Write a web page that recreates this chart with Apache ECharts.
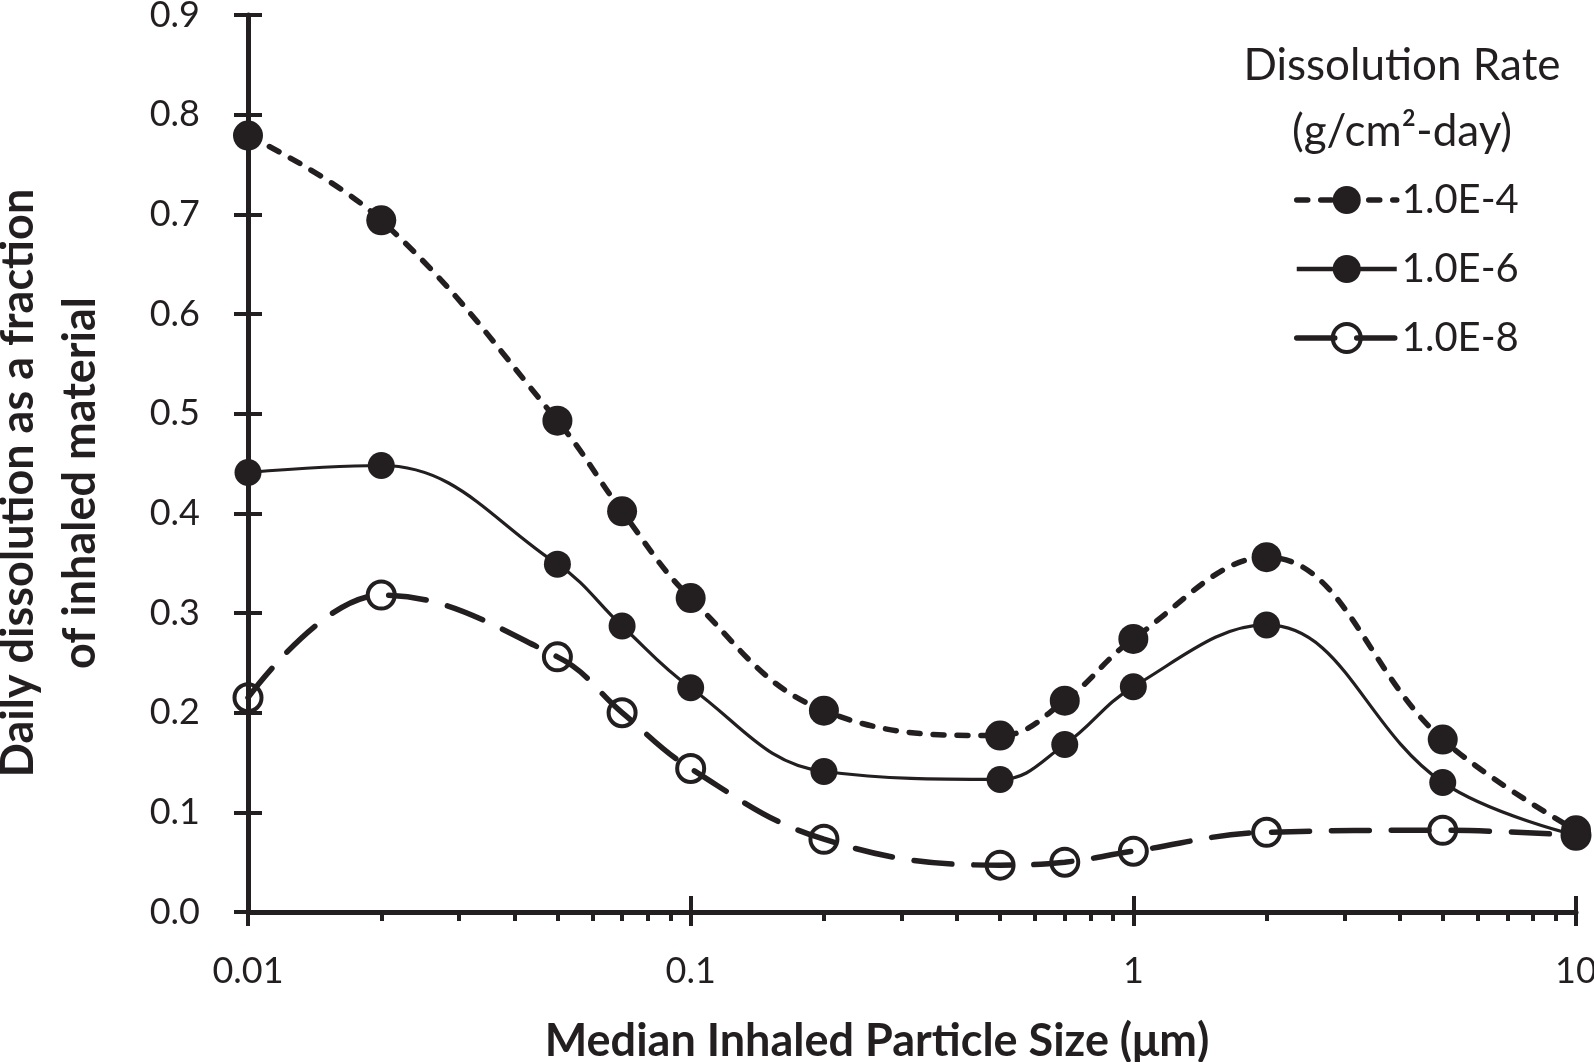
<!DOCTYPE html>
<html><head><meta charset="utf-8">
<script src="https://cdn.jsdelivr.net/npm/echarts@6/dist/echarts.min.js"></script>
<style>html,body{margin:0;padding:0;background:#fff}#c{width:1594px;height:1062px}</style>
</head><body><div id="c"></div>
<script>
// ---- data ----
const sizes = [0.01, 0.02, 0.05, 0.07, 0.1, 0.2, 0.5, 0.7, 1, 2, 5, 10];
const rateE4 = [0.779, 0.694, 0.493, 0.402, 0.315, 0.202, 0.177, 0.212, 0.274, 0.356, 0.173, 0.082];
const rateE6 = [0.441, 0.448, 0.349, 0.287, 0.225, 0.141, 0.133, 0.168, 0.226, 0.288, 0.130, 0.077];
const rateE8 = [0.215, 0.318, 0.256, 0.200, 0.144, 0.073, 0.047, 0.050, 0.061, 0.080, 0.082, 0.077];
const seriesNames = ['1.0E-4', '1.0E-6', '1.0E-8'];
const xMajorTicks = [0.01, 0.1, 1, 10];
const xMinorTicks = [0.02,0.03,0.04,0.05,0.06,0.07,0.08,0.09,0.2,0.3,0.4,0.5,0.6,0.7,0.8,0.9,2,3,4,5,6,7,8,9];
const yMin = 0, yMax = 0.9, yStep = 0.1;
const xTitle = 'Median Inhaled Particle Size (μm)';
const yTitle = 'Daily dissolution as a fraction\nof inhaled material';
const legendTitle = 'Dissolution Rate\n(g/cm²-day)';

const INK = '#231f20';
const FONT = 'Lato';
const pair = arr => sizes.map((s, i) => [s, arr[i]]);
const log10 = v => Math.log10(v);

const lineStyles = [
  { color: INK, width: 5.5, type: [11, 13], cap: 'round' },
  { color: INK, width: 3.2, type: 'solid' },
  { color: INK, width: 5.5, type: [38, 22], cap: 'round' }
];
const itemStyles = [
  { color: INK },
  { color: INK },
  { color: 'rgba(255,255,255,0)', borderColor: INK, borderWidth: 4 }
];

const chart = echarts.init(document.getElementById('c'));
chart.setOption({
  animation: false,
  backgroundColor: '#fff',
  grid: { left: 248, right: 18, top: 15, bottom: 150, containLabel: false, outerBoundsMode: 'none' },
  xAxis: [
    {
      type: 'log', logBase: 10, min: xMajorTicks[0], max: xMajorTicks[xMajorTicks.length - 1],
      position: 'bottom',
      axisLine: { show: true, onZero: false, lineStyle: { color: INK, width: 5 } },
      axisTick: { show: true, length: 14, lineStyle: { color: INK, width: 4 } },
      minorTick: { show: false },
      splitLine: { show: false },
      axisLabel: { color: INK, fontFamily: FONT, fontSize: 36, margin: 41, formatter: v => String(+v) }
    },
    {
      type: 'value', min: log10(xMajorTicks[0]), max: log10(xMajorTicks[xMajorTicks.length - 1]),
      position: 'bottom', offset: 0,
      axisLine: { show: false, onZero: false },
      axisTick: { show: true, length: 9, customValues: xMinorTicks.map(log10), lineStyle: { color: INK, width: 4 } },
      axisLabel: { show: false }, splitLine: { show: false }
    },
    {
      type: 'value', min: log10(xMajorTicks[0]), max: log10(xMajorTicks[xMajorTicks.length - 1]), interval: 1,
      position: 'bottom', offset: 0,
      axisLine: { show: false, onZero: false },
      axisTick: { show: true, inside: true, length: 16, lineStyle: { color: INK, width: 4 } },
      axisLabel: { show: false }, splitLine: { show: false }
    }
  ],
  yAxis: [
    {
      type: 'value', min: yMin, max: yMax, interval: yStep, position: 'left',
      axisLine: { show: true, onZero: false, lineStyle: { color: INK, width: 5 } },
      axisTick: { show: true, length: 14, lineStyle: { color: INK, width: 4 } },
      splitLine: { show: false },
      axisLabel: { color: INK, fontFamily: FONT, fontSize: 36, margin: 48, formatter: v => v.toFixed(1) }
    },
    {
      type: 'value', min: yMin, max: yMax, interval: yStep, position: 'left', offset: 0,
      axisLine: { show: false, onZero: false },
      axisTick: { show: true, inside: true, length: 14, lineStyle: { color: INK, width: 4 } },
      splitLine: { show: false }, axisLabel: { show: false }
    }
  ],
  legend: {
    orient: 'vertical', left: 1289, top: 175,
    itemWidth: 100, itemHeight: 35, itemGap: 29,
    data: seriesNames.map((n, i) => ({
      name: n,
      lineStyle: Object.assign({}, lineStyles[i], { width: i === 1 ? 4.5 : 5.5 }),
      itemStyle: itemStyles[i]
    })),
    textStyle: { color: INK, fontFamily: FONT, fontSize: 40, lineHeight: 35, padding: [0, 0, 0, 0] }
  },
  graphic: [
    {
      type: 'text', x: 1402, y: 99,
      style: { text: legendTitle, fill: INK, font: `44px ${FONT}`, textAlign: 'center', textVerticalAlign: 'middle', lineHeight: 66 }
    },
    {
      type: 'text', x: 49, y: 483, rotation: Math.PI / 2,
      style: { text: yTitle, fill: INK, font: `bold 45px ${FONT}`, textAlign: 'center', textVerticalAlign: 'middle', lineHeight: 62 }
    },
    {
      type: 'text', x: 877, y: 1041,
      style: { text: xTitle, fill: INK, font: `bold 45px ${FONT}`, textAlign: 'center', textVerticalAlign: 'middle' }
    }
  ],
  series: [
    {
      name: seriesNames[0], type: 'line', data: pair(rateE4), smooth: 0.4,
      symbol: 'circle', symbolSize: 30,
      lineStyle: lineStyles[0], itemStyle: itemStyles[0], z: 3
    },
    {
      name: seriesNames[1], type: 'line', data: pair(rateE6), smooth: 0.4,
      symbol: 'circle', symbolSize: 27,
      lineStyle: lineStyles[1], itemStyle: itemStyles[1], z: 3
    },
    {
      name: seriesNames[2], type: 'line', data: pair(rateE8), smooth: 0.4,
      symbol: 'circle', symbolSize: 27,
      lineStyle: lineStyles[2], itemStyle: itemStyles[2], z: 2
    }
  ]
});
</script>
</body></html>
